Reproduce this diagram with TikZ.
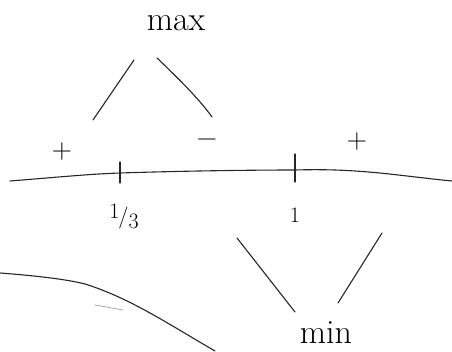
\documentclass[tikz,border=0pt]{standalone}
\usepackage{fontspec}
\usepackage{tikz}
\usetikzlibrary{positioning, calc}

\begin{document}
\begin{tikzpicture}[
    x=1pt, y=-1pt,
    pen/.style={line width=1.1pt, line cap=round, draw=black!85},
    tick/.style={line width=1.2pt, line cap=round, draw=black!85},
    word/.style={font=\fontsize{34}{38}\selectfont, inner sep=0pt},
    sgn/.style={font=\fontsize{28}{30}\selectfont, inner sep=0pt},
    lbl/.style={font=\fontsize{22}{24}\selectfont, inner sep=0pt}
]
    \useasboundingbox (0,0) rectangle (452,351);
    % number line
    \coordinate (t1) at (120,173);
    \coordinate (t2) at (295,170);
    \draw[pen] (10,181) .. controls (60,177) and (90,174) .. (t1)
        .. controls (180,171) and (250,170) .. (t2)
        .. controls (360,168) and (400,176) .. (452,181);
    \draw[tick] ($(t1)+(0,-11)$) -- ($(t1)+(0,10)$);
    \draw[tick] ($(t2)+(0,-16)$) -- ($(t2)+(0,12)$);
    \node[lbl] (third) at (124,216)
        {\raisebox{5pt}{1}\kern-1pt/\raisebox{-5pt}{3}};
    \node[lbl] (one) at (295,215) {1};
    % signs
    \node[sgn] (p1) at (62,152) {+};
    \node[sgn] (m1) at (207,143) {−};
    \node[sgn] (p2) at (357,142) {+};
    % max
    \node[word] (max) at (176,23) {max};
    \draw[pen] (93,120) -- (134,60);
    \draw[pen] (157,58) .. controls (180,80) and (200,100) .. (212,117);
    % min
    \node[word] (min) at (326,333) {min};
    \draw[pen] (237,238) -- (295,312);
    \draw[pen] (382,233) -- (338,303);
    % curve lower left
    \draw[pen] (0,273) .. controls (40,276) and (70,280) .. (85,284)
        .. controls (130,298) and (170,325) .. (215,351);
    \draw[line width=0.8pt, draw=black!35, line cap=round] (95,305) -- (123,310);
\end{tikzpicture}
\end{document}
